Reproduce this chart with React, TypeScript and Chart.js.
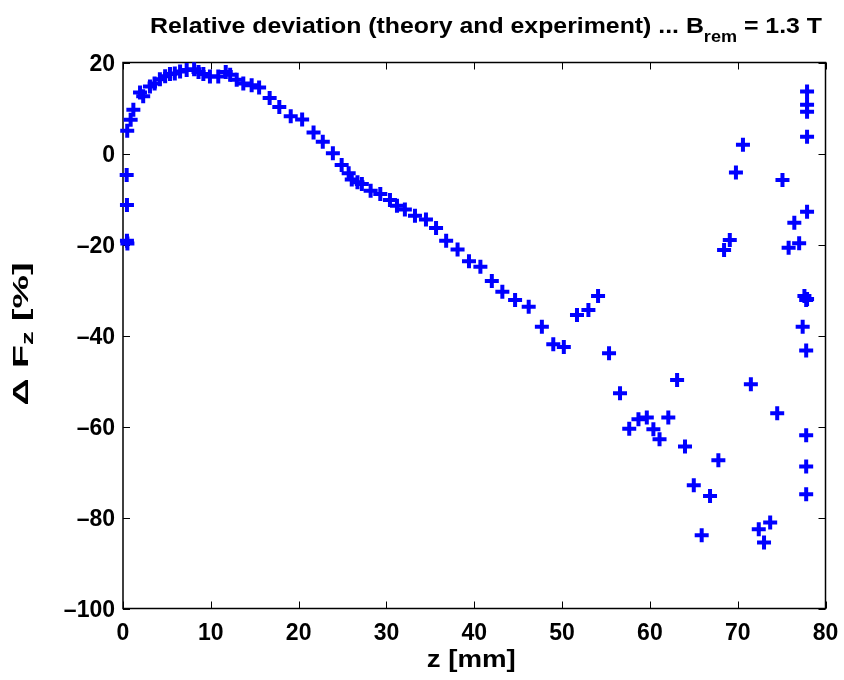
import React, { useEffect, useRef } from "react";
import { Chart, registerables } from "chart.js";

Chart.register(...registerables);

const zValues = [
  0.42, 0.45, 0.45, 0.5, 0.48, 0.87, 1.18, 1.94, 2.3, 3.07, 3.6, 4.2, 4.8, 5.35, 5.9, 6.5,
  7.25, 8.1, 8.6, 9.15, 9.9, 10.85, 11.7, 12.2, 12.95, 13.7, 14.65, 15.5, 16.7, 17.8, 19.1,
  20.4, 21.7, 22.75, 23.9, 24.9, 25.7, 26.05, 26.7, 27.2, 28.2, 29.3, 30.4, 31.2, 32.1,
  33.25, 34.5, 35.65, 36.8, 38.1, 39.4, 40.7, 42.0, 43.2, 44.65, 46.2, 47.7, 49.0, 50.2,
  51.7, 53.0, 54.1, 55.35, 56.6, 57.65, 58.7, 59.65, 60.4, 61.1, 62.1, 63.1, 64.0, 65.0,
  65.9, 66.85, 67.8, 68.45, 69.1, 69.8, 70.6, 71.5, 72.4, 73.0, 73.7, 74.5, 75.1, 75.8,
  76.45, 77.0, 77.4, 77.6, 77.8, 77.9, 77.8, 77.8, 77.8, 77.8, 77.9, 77.9, 77.9, 77.9, 77.9,
];
const deltaFz = [
  -4.7, -11.3, -19.2, -19.8, 5.0, 7.4, 9.6, 13.4, 12.6, 14.7, 15.4, 16.3, 17.0, 17.5, 17.6, 18.0,
  18.35, 18.5, 17.9, 17.5, 16.9, 16.9, 17.9, 17.3, 16.2, 15.4, 15.0, 14.5, 12.2, 10.2, 8.2,
  7.5, 4.6, 2.6, 0.05, -2.5, -4.35, -5.7, -6.3, -6.7, -8.2, -8.9, -10.2, -11.5, -12.3,
  -13.7, -14.5, -16.4, -19.2, -21.1, -23.7, -24.9, -28.0, -30.4, -32.2, -33.7, -38.1, -41.9, -42.5,
  -35.5, -34.4, -31.3, -43.9, -52.7, -60.5, -58.4, -58.0, -60.6, -62.8, -58.0, -49.8, -64.4, -72.9,
  -83.9, -75.3, -67.4, -21.2, -19.0, -4.2, 1.9, -50.7, -82.6, -85.5, -81.1, -57.1, -5.8, -20.7,
  -15.2, -19.7, -38.1, -31.3, -32.2, -32.0, -43.3, -61.9, -68.8, -74.9, -12.8, 3.7, 9.2, 10.7, 13.6,
];

const xTicks = [0, 10, 20, 30, 40, 50, 60, 70, 80];
const yTicks = [-100, -80, -60, -40, -20, 0, 20];
const xTickLabels = ["0", "10", "20", "30", "40", "50", "60", "70", "80"];
const yTickLabels = ["\u2013100", "\u201380", "\u201360", "\u201340", "\u201320", "0", "20"];

const titleMain = "Relative deviation (theory and experiment) ... B";
const titleSub = "rem";
const titleTail = " = 1.3 T";
const xLabel = "z [mm]";
const yLabelMain = "\u0394 F";
const yLabelSub = "z";
const yLabelTail = " [%]";

const FONT = '"Liberation Sans", Arial, Helvetica, sans-serif';

function drawWithSub(
  ctx: CanvasRenderingContext2D,
  main: string,
  sub: string,
  tail: string,
  size: number,
  subSize: number,
  subShift: number,
  fitWidth: number | null,
  align: "left" | "center"
) {
  ctx.font = `bold ${size}px ${FONT}`;
  const w1 = ctx.measureText(main).width;
  const w3 = ctx.measureText(tail).width;
  ctx.font = `bold ${subSize}px ${FONT}`;
  const w2 = sub ? ctx.measureText(sub).width : 0;
  const total = w1 + w2 + w3;
  const sx = fitWidth ? fitWidth / total : 1;
  ctx.scale(sx, 1);
  const x0 = align === "center" ? -total / 2 : 0;
  ctx.textAlign = "left";
  ctx.textBaseline = "alphabetic";
  ctx.font = `bold ${size}px ${FONT}`;
  ctx.fillText(main, x0, 0);
  if (sub) {
    ctx.font = `bold ${subSize}px ${FONT}`;
    ctx.fillText(sub, x0 + w1, subShift);
  }
  if (tail) {
    ctx.font = `bold ${size}px ${FONT}`;
    ctx.fillText(tail, x0 + w1 + w2, 0);
  }
}

const framePlugin = {
  id: "matlabFrame",
  beforeDatasetsDraw(chart: any) {
    const { ctx, chartArea: a, scales } = chart;
    ctx.save();
    ctx.strokeStyle = "#000";
    ctx.lineWidth = 1.5;
    ctx.strokeRect(a.left, a.top, a.right - a.left, a.bottom - a.top);
    ctx.lineWidth = 1;
    const tl = 7;
    ctx.beginPath();
    xTicks.forEach((v) => {
      const px = Math.round(scales.x.getPixelForValue(v)) + 0.5;
      ctx.moveTo(px, a.bottom);
      ctx.lineTo(px, a.bottom - tl);
      ctx.moveTo(px, a.top);
      ctx.lineTo(px, a.top + tl);
    });
    yTicks.forEach((v) => {
      const py = Math.round(scales.y.getPixelForValue(v)) + 0.5;
      ctx.moveTo(a.left, py);
      ctx.lineTo(a.left + tl, py);
      ctx.moveTo(a.right, py);
      ctx.lineTo(a.right - tl, py);
    });
    ctx.stroke();

    // tick labels
    ctx.fillStyle = "#000";
    ctx.font = `bold 23px ${FONT}`;
    ctx.textBaseline = "alphabetic";
    ctx.textAlign = "center";
    xTicks.forEach((v, i) => {
      const px = scales.x.getPixelForValue(v);
      ctx.fillText(xTickLabels[i], px, 640);
    });
    ctx.textAlign = "right";
    yTicks.forEach((v, i) => {
      const py = scales.y.getPixelForValue(v);
      ctx.fillText(yTickLabels[i], 115, py + 8);
    });
    ctx.restore();
  },
  afterDraw(chart: any) {
    const { ctx, chartArea: a } = chart;
    ctx.save();
    ctx.fillStyle = "#000";
    // title
    ctx.save();
    ctx.translate(150, 33);
    drawWithSub(ctx, titleMain, titleSub, titleTail, 22, 16, 9, 672, "left");
    ctx.restore();
    // x label
    ctx.save();
    ctx.translate((a.left + a.right) / 2 - 3, 667);
    drawWithSub(ctx, xLabel, "", "", 24, 16, 0, 89, "center");
    ctx.restore();
    // y label
    ctx.save();
    ctx.translate(28, 334);
    ctx.rotate(-Math.PI / 2);
    drawWithSub(ctx, yLabelMain, yLabelSub, yLabelTail, 22, 16, 5, 143, "center");
    ctx.restore();
    ctx.restore();
  },
};

export default function App() {
  const ref = useRef<HTMLCanvasElement>(null);
  useEffect(() => {
    if (!ref.current) return;
    const chart = new Chart(ref.current, {
      type: "scatter",
      data: {
        datasets: [
          {
            data: zValues.map((z, i) => ({ x: z, y: deltaFz[i] })),
            pointStyle: "cross",
            pointRadius: 7,
            pointHoverRadius: 7,
            borderWidth: 4,
            borderColor: "#0000ff",
            backgroundColor: "#0000ff",
            clip: false as any,
          },
        ],
      },
      options: {
        responsive: false,
        animation: false,
        events: [],
        layout: { padding: { top: 62.5, right: 18.5, left: 0, bottom: 0 } },
        plugins: { legend: { display: false }, tooltip: { enabled: false }, title: { display: false } },
        scales: {
          x: {
            type: "linear",
            min: 0,
            max: 80,
            afterBuildTicks: (s: any) => {
              s.ticks = xTicks.map((v) => ({ value: v }));
            },
            afterFit: (s: any) => {
              s.height = 680 - 608.5;
            },
            ticks: { display: false },
            grid: { display: false, drawTicks: false },
            border: { display: false },
          },
          y: {
            type: "linear",
            min: -100,
            max: 20,
            afterBuildTicks: (s: any) => {
              s.ticks = yTicks.map((v) => ({ value: v }));
            },
            afterFit: (s: any) => {
              s.width = 123;
            },
            ticks: { display: false },
            grid: { display: false, drawTicks: false },
            border: { display: false },
          },
        },
      },
      plugins: [framePlugin],
    });
    return () => chart.destroy();
  }, []);
  return (
    <div style={{ position: "fixed", left: 0, top: 0, width: 844, height: 680, background: "#fff" }}>
      <canvas ref={ref} width={844} height={680} style={{ display: "block" }} />
    </div>
  );
}
